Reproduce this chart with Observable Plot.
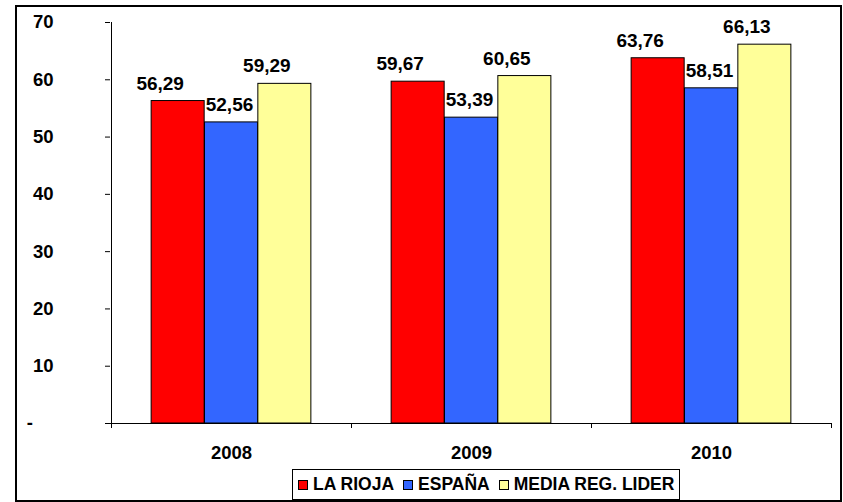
<!DOCTYPE html>
<html>
<head>
<meta charset="utf-8">
<script src="https://cdn.jsdelivr.net/npm/d3@7"></script>
<script src="https://cdn.jsdelivr.net/npm/@observablehq/plot@0.6"></script>
<style>
  html, body { margin: 0; padding: 0; background: #fff; }
  body { width: 843px; height: 502px; position: relative; overflow: hidden; font-family: "Liberation Sans", Arial, sans-serif; }
  #frame { position: absolute; left: 15px; top: 5px; width: 827px; height: 497px; border: 2px solid #000; box-sizing: border-box; }
  #chart { position: absolute; left: 0; top: 0; }
  #legend { position: absolute; left: 292px; top: 469px; width: 388px; height: 31px; border: 1px solid #000; box-sizing: border-box;
            display: flex; align-items: center; padding-left: 5px; font-weight: bold; font-size: 17.5px; color: #000; white-space: nowrap; }
  #legend .sw { display: inline-block; width: 8px; height: 8px; border: 1px solid #000; margin-right: 5px; }
  #legend .item { display: inline-flex; align-items: center; margin-right: 9px; }
</style>
</head>
<body>
<div id="frame"></div>
<div id="chart"></div>
<div id="legend"></div>
<script>
// ---- data ----
const years = ["2008", "2009", "2010"];
const seriesNames = ["LA RIOJA", "ESPAÑA", "MEDIA REG. LIDER"];
const seriesColors = ["#FF0000", "#3366FF", "#FFFF99"];
const laRioja = [56.29, 59.67, 63.76];
const espana = [52.56, 53.39, 58.51];
const mediaRegLider = [59.29, 60.65, 66.13];
const yTicks = [0, 10, 20, 30, 40, 50, 60, 70];

const seriesValues = [laRioja, espana, mediaRegLider];
const rows = [];
seriesNames.forEach((s, i) => years.forEach((y, j) => rows.push({year: y, series: s, value: seriesValues[i][j]})));

const fmt = v => v.toFixed(2).replace(".", ",");

// ---- layout styles ----
const W = 843, H = 462;
const mL = 110, mR = 12, mT = 22, mB = 39;
const band = (W - mL - mR) / years.length;
const barW = band * 0.222;
const inset = (band - barW) / 2;
const labelShift = [-18, -2, -18];

const barMarks = [];
const labelMarks = [];
seriesNames.forEach((s, i) => {
  const data = rows.filter(r => r.series === s);
  barMarks.push(Plot.barY(data, {
    x: "year", y: "value", fill: "series", stroke: "#000", strokeWidth: 1,
    insetLeft: inset, insetRight: inset, dx: (i - 1) * barW
  }));
  labelMarks.push(Plot.text(data, {
    x: "year", y: "value", text: d => fmt(d.value),
    dx: (i - 1) * barW + labelShift[i], dy: -11.5, lineAnchor: "bottom",
    fontSize: 19, fontWeight: "bold", fill: "#000"
  }));
});

function boundaryTicks(index, scales) {
  const x = scales.x, y = scales.y;
  const bw = typeof x.bandwidth === "function" ? x.bandwidth() : scales.scales.x.bandwidth;
  const y0 = y(0);
  const g = d3.create("svg:g").attr("stroke", "#000").attr("stroke-width", 1).attr("shape-rendering", "crispEdges");
  const edges = years.map(d => x(d)).concat([x(years[years.length - 1]) + bw]);
  g.append("line").attr("x1", edges[0] - 5).attr("x2", edges[edges.length - 1]).attr("y1", y0).attr("y2", y0);
  for (const e of edges) g.append("line").attr("x1", e).attr("x2", e).attr("y1", y0).attr("y2", y0 + 5);
  g.append("line").attr("x1", edges[0]).attr("x2", edges[0]).attr("y1", y(70)).attr("y2", y0);
  return g.node();
}

const chart = Plot.plot({
  width: W, height: H,
  marginLeft: mL, marginRight: mR, marginTop: mT, marginBottom: mB,
  style: {fontFamily: "'Liberation Sans', Arial, sans-serif", fontSize: "18.5px", fontWeight: "bold", color: "#000", background: "transparent", overflow: "visible"},
  x: {domain: years, padding: 0, label: null},
  y: {domain: [0, 70], label: null},
  color: {domain: seriesNames, range: seriesColors},
  marks: [
    ...barMarks,
    Plot.axisY({ticks: yTicks, tickSize: 5, tickPadding: 52, label: null,
      tickFormat: d => d === 0 ? "-\u2007\u2007" : String(d), stroke: "#000"}),
    Plot.axisX({tickSize: 0, tickPadding: 22, label: null}),
    boundaryTicks,
    ...labelMarks
  ]
});
document.getElementById("chart").appendChild(chart);

// ---- legend ----
const legend = document.getElementById("legend");
seriesNames.forEach((s, i) => {
  const item = document.createElement("span");
  item.className = "item";
  const sw = document.createElement("span");
  sw.className = "sw";
  sw.style.background = seriesColors[i];
  item.appendChild(sw);
  item.appendChild(document.createTextNode(s));
  legend.appendChild(item);
});
</script>
</body>
</html>
